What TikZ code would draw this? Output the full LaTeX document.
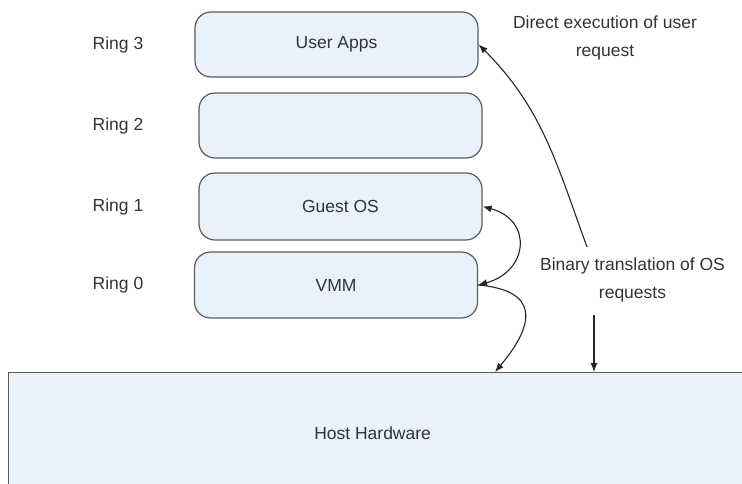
\documentclass[tikz,border=0pt]{standalone}
\usepackage{fontspec}
\setmainfont{Liberation Sans}
\usetikzlibrary{positioning,arrows.meta}

\definecolor{ringfill}{HTML}{E9F2FB}
\definecolor{ringdraw}{HTML}{5C5C5C}
\definecolor{inktext}{HTML}{333333}

\begin{document}
\begin{tikzpicture}[
    x=1pt, y=1pt,
    ringbox/.style={draw=ringdraw, line width=1.2pt, fill=ringfill, rounded corners=16pt,
      minimum width=283pt, minimum height=65pt, font=\fontsize{17.5}{21}\selectfont, text=inktext},
    hwbox/.style={draw=ringdraw, line width=1.2pt, fill=ringfill, minimum width=760pt,
      minimum height=130pt, anchor=north west},
    ringlbl/.style={font=\fontsize{17.5}{21}\selectfont, text=inktext},
    note/.style={font=\fontsize{17.5}{28}\selectfont, text=inktext, align=center},
    flow/.style={line width=1.1pt, draw=black!85, -{Latex[length=9pt,width=7pt]}},
    twoway/.style={line width=1.1pt, draw=black!85, {Latex[length=9pt,width=7pt]}-{Latex[length=9pt,width=7pt]}}
  ]
\useasboundingbox (0,0) rectangle (742,484);

% Privilege rings
\node[ringbox] (apps) at (336.5,439.5) {User Apps};
\node[ringbox] (ringtwo) at (340.5,358.5) {};
\node[ringbox, minimum height=67pt] (guest) at (340.5,277.5) {Guest OS};
\node[ringbox, minimum height=66pt] (vmm) at (336,199) {VMM};

% Ring numbers
\coordinate (lblx) at (118,0);
\foreach \b/\n in {apps/3,ringtwo/2,guest/1,vmm/0} {
    \node[ringlbl] (ring\n) at (\b -| lblx) {Ring \n};
}

% Hardware below
\node[hwbox, label={[ringlbl, xshift=-16pt, yshift=4pt]center:Host Hardware}] (host) at (8,112) {};

% Notes on the right
\node[note] (direct) at (605,446.5) {Direct execution of user\\request};
\node[note] (binary) at (632.5,204) {Binary translation of OS\\requests};

% Arrows
\coordinate (dstart) at (587,237);
\coordinate (bstart) at (594,169);
\coordinate (hwin) at (495,112);
\draw[flow] (dstart) to[out=110, in=-45] (apps.east);
\draw[flow] (bstart) -- (host.north -| bstart);
\draw[twoway] (guest.east) to[out=-15, in=15, looseness=1.7] (vmm.east);
\draw[flow] (vmm.east) to[out=-5, in=50, looseness=1.8] (hwin);

\end{tikzpicture}
\end{document}
